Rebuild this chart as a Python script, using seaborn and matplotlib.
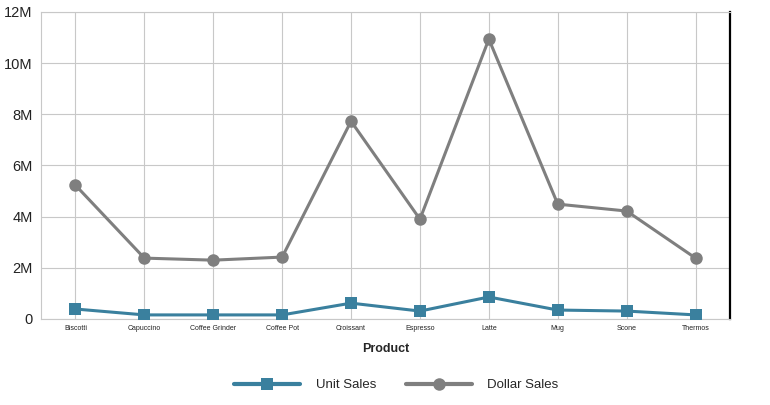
import pandas as pd
import numpy as np
import matplotlib.pyplot as plt
import seaborn as sns
from matplotlib.ticker import FuncFormatter

products = ['Biscotti', 'Capuccino', 'Coffee Grinder', 'Coffee Pot', 'Croissant',
            'Espresso', 'Latte', 'Mug', 'Scone', 'Thermos']
unit_sales = [0.39e6, 0.16e6, 0.16e6, 0.16e6, 0.62e6, 0.31e6, 0.86e6, 0.35e6, 0.31e6, 0.16e6]
dollar_sales = [5.23e6, 2.38e6, 2.30e6, 2.42e6, 7.73e6, 3.90e6, 10.94e6, 4.49e6, 4.22e6, 2.38e6]

df = pd.DataFrame({'Product': products * 2,
                   'value': unit_sales + dollar_sales,
                   'series': ['Unit Sales'] * len(products) + ['Dollar Sales'] * len(products)})

sns.set_style('white')
plt.rcParams['font.family'] = ['Liberation Sans', 'DejaVu Sans']

fig = plt.figure(figsize=(7.7, 4.05), dpi=100)
ax = fig.add_axes([41 / 770, 1 - 319 / 405, (730 - 41) / 770, (319 - 12) / 405])

palette = {'Unit Sales': '#3a809e', 'Dollar Sales': '#7f7f7f'}
sns.lineplot(data=df, x='Product', y='value', hue='series', style='series',
             markers={'Unit Sales': 's', 'Dollar Sales': 'o'}, dashes=False,
             palette=palette, linewidth=2.2, markersize=9, markeredgewidth=0,
             sort=False, ax=ax, legend=False, zorder=3)

ax.set_xlim(-0.5, len(products) - 0.5)
ax.set_ylim(0, 12e6)
ax.set_yticks(np.arange(0, 12.1e6, 2e6))
ax.yaxis.set_major_formatter(FuncFormatter(lambda v, p: '0' if v == 0 else f'{v / 1e6:.0f}M'))
ax.grid(True, color='#c8c8c8', linewidth=0.8)
ax.set_axisbelow(True)

for s in ['left', 'bottom', 'top']:
    ax.spines[s].set_color('#c8c8c8')
    ax.spines[s].set_linewidth(0.8)
ax.spines['right'].set_color('black')
ax.spines['right'].set_linewidth(1.6)

ax.tick_params(axis='y', labelsize=10.5, length=0, pad=6, colors='#222222')
ax.tick_params(axis='x', labelsize=5, length=0, pad=4, colors='#222222')
ax.set_xlabel('Product', fontsize=9, fontweight='bold', labelpad=8)
ax.set_ylabel('')

handles = [plt.Line2D([], [], color=palette['Unit Sales'], marker='s', lw=3, ms=9, mew=0),
           plt.Line2D([], [], color=palette['Dollar Sales'], marker='o', lw=3, ms=9, mew=0)]
fig.legend(handles, ['Unit Sales', 'Dollar Sales'], loc='center', bbox_to_anchor=(0.515, 1 - 385 / 405),
           ncol=2, frameon=False, fontsize=9.5, handlelength=5.0, numpoints=1, columnspacing=2.2,
           handletextpad=1.2)

fig.savefig('out.png', dpi=100)
